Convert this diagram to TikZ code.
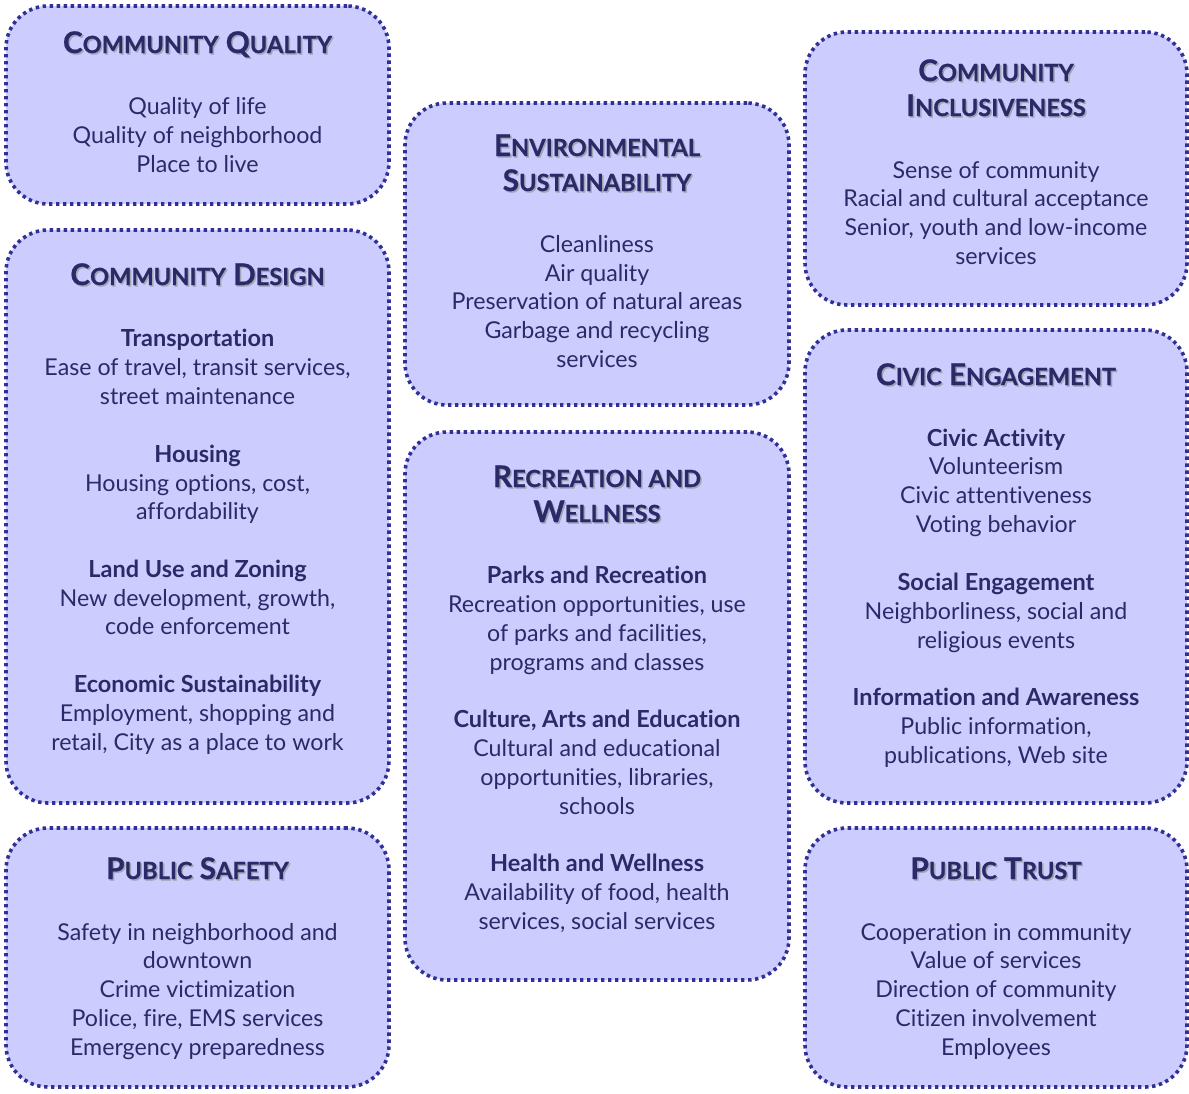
\documentclass[tikz,border=0pt]{standalone}
\usepackage{fontspec}
\setmainfont{Lato}[Ligatures={NoCommon}]
\newfontfamily\ttlfont{Lato}[Ligatures={NoCommon}, BoldFeatures={FakeBold=0.6}]
\definecolor{fillc}{HTML}{CCCCFF}
\definecolor{edgec}{HTML}{303096}
\definecolor{txtc}{HTML}{2A2A68}
\definecolor{shadc}{HTML}{A4A4B4}
\newcommand\SC[1]{{\fontsize{23.6}{28}\selectfont #1}}
\tikzset{
  box/.style={rectangle, draw=edgec, fill=fillc, line width=3.6pt, dash pattern=on 3.4pt off 3.6pt, rounded corners=42pt, inner sep=0pt},
  body/.style={anchor=base, text=txtc, font=\fontsize{23.2}{29}\selectfont, inner sep=0pt},
  sub/.style={anchor=base, text=txtc, font=\fontsize{23.5}{29}\selectfont\bfseries, inner sep=0pt},
  ttl/.style={anchor=base, text=txtc, font=\ttlfont\fontsize{29.8}{34}\selectfont\bfseries, inner sep=0pt},
  ttlsh/.style={ttl, text=shadc},
}
\newcommand\ttlnode[4]{\node[ttlsh] (#1s) at (#2+1.5,#3+1.5) {#4};\node[ttl] (#1) at (#2,#3) {#4};}
\begin{document}
\begin{tikzpicture}[x=1pt,y=-1pt]
\useasboundingbox (0,0) rectangle (1189,1093);
% boxes
\node[box, minimum width=383pt, minimum height=198pt] (b1) at (197.5,105) {};
\node[box, minimum width=383pt, minimum height=573pt] (b2) at (197.5,516.5) {};
\node[box, minimum width=383pt, minimum height=259pt] (b3) at (197.5,957.5) {};
\node[box, minimum width=384pt, minimum height=302pt] (b4) at (597,254) {};
\node[box, minimum width=384pt, minimum height=548pt] (b5) at (597,706) {};
\node[box, minimum width=382pt, minimum height=273pt] (b6) at (996,168.5) {};
\node[box, minimum width=382pt, minimum height=473pt] (b7) at (996,566.5) {};
\node[box, minimum width=382pt, minimum height=259pt] (b8) at (996,957.5) {};
% Box 1
\ttlnode{t1}{197.5}{53}{C\SC{OMMUNITY} Q\SC{UALITY}}
\node[body] (l1a) at (197.5,114) {Quality of life};
\node[body] (l1b) at (197.5,143) {Quality of neighborhood};
\node[body] (l1c) at (197.5,172) {Place to live};
% Box 2
\ttlnode{t2}{197.5}{285}{C\SC{OMMUNITY} D\SC{ESIGN}}
\node[sub] (l2a) at (197.5,346) {Transportation};
\node[body] (l2b) at (197.5,375) {Ease of travel, transit services,};
\node[body] (l2c) at (197.5,404) {street maintenance};
\node[sub] (l2d) at (197.5,462) {Housing};
\node[body] (l2e) at (197.5,491) {Housing options, cost,};
\node[body] (l2f) at (197.5,519) {affordability};
\node[sub] (l2g) at (197.5,577) {Land Use and Zoning};
\node[body] (l2h) at (197.5,606) {New development, growth,};
\node[body] (l2i) at (197.5,634) {code enforcement};
\node[sub] (l2j) at (197.5,692) {Economic Sustainability};
\node[body] (l2k) at (197.5,721) {Employment, shopping and};
\node[body] (l2l) at (197.5,750) {retail, City as a place to work};
% Box 3
\ttlnode{t3}{197.5}{879}{P\SC{UBLIC} S\SC{AFETY}}
\node[body] (l3a) at (197.5,940) {Safety in neighborhood and};
\node[body] (l3b) at (197.5,968) {downtown};
\node[body] (l3c) at (197.5,997) {Crime victimization};
\node[body] (l3d) at (197.5,1026) {Police, fire, EMS services};
\node[body] (l3e) at (197.5,1055) {Emergency preparedness};
% Box 4
\ttlnode{t4a}{597}{156}{E\SC{NVIRONMENTAL}}
\ttlnode{t4b}{597}{191}{S\SC{USTAINABILITY}}
\node[body] (l4a) at (597,252) {Cleanliness};
\node[body] (l4b) at (597,281) {Air quality};
\node[body] (l4c) at (597,309) {Preservation of natural areas};
\node[body] (l4d) at (597,338) {Garbage and recycling};
\node[body] (l4e) at (597,367) {services};
% Box 5
\ttlnode{t5a}{597}{487}{R\SC{ECREATION AND}}
\ttlnode{t5b}{597}{522}{W\SC{ELLNESS}}
\node[sub] (l5a) at (597,583) {Parks and Recreation};
\node[body] (l5b) at (597,612) {Recreation opportunit\kern0pt ies, use};
\node[body] (l5c) at (597,641) {of parks and facilities,};
\node[body] (l5d) at (597,670) {programs and classes};
\node[sub] (l5e) at (597,727) {Culture, Arts and Education};
\node[body] (l5f) at (597,756) {Cultural and educational};
\node[body] (l5g) at (597,785) {opportunit\kern0pt ies, libraries,};
\node[body] (l5h) at (597,814) {schools};
\node[sub] (l5i) at (597,871) {Health and Wellness};
\node[body] (l5j) at (597,900) {Availability of food, health};
\node[body] (l5k) at (597,929) {services, social services};
% Box 6
\ttlnode{t6a}{996}{81}{C\SC{OMMUNITY}}
\ttlnode{t6b}{996}{116}{I\SC{NCLUSIVENESS}}
\node[body] (l6a) at (996,178) {Sense of community};
\node[body] (l6b) at (996,206) {Racial and cultural acceptance};
\node[body] (l6c) at (996,235) {Senior, youth and low-income};
\node[body] (l6d) at (996,264) {services};
% Box 7
\ttlnode{t7}{996}{385}{C\SC{IVIC} E\SC{NGAGEMENT}}
\node[sub] (l7a) at (996,446) {Civic Activity};
\node[body] (l7b) at (996,474) {Volunteerism};
\node[body] (l7c) at (996,503) {Civic attent\kern0pt iveness};
\node[body] (l7d) at (996,532) {Voting behavior};
\node[sub] (l7e) at (996,590) {Social Engagement};
\node[body] (l7f) at (996,619) {Neighborliness, social and};
\node[body] (l7g) at (996,648) {religious events};
\node[sub] (l7h) at (996,705) {Information and Awareness};
\node[body] (l7i) at (996,734) {Public information,};
\node[body] (l7j) at (996,763) {publications, Web site};
% Box 8
\ttlnode{t8}{996}{879}{P\SC{UBLIC} T\SC{RUST}}
\node[body] (l8a) at (996,940) {Cooperation in community};
\node[body] (l8b) at (996,968) {Value of services};
\node[body] (l8c) at (996,997) {Direction of community};
\node[body] (l8d) at (996,1026) {Citizen involvement};
\node[body] (l8e) at (996,1055) {Employees};
\end{tikzpicture}
\end{document}
